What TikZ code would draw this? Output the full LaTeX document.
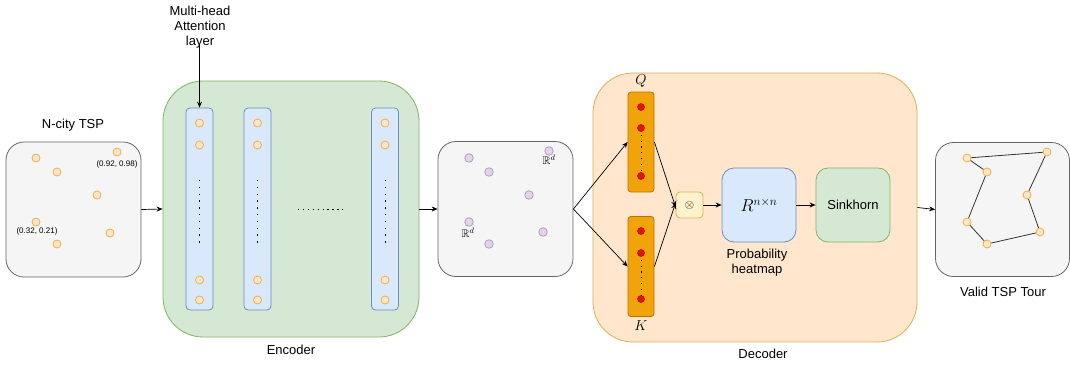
\documentclass[tikz,border=0pt]{standalone}
\usepackage{amsmath,amssymb}
\usepackage{fontspec}
\setmainfont{Liberation Sans}
\usetikzlibrary{arrows.meta}
\definecolor{gfill}{HTML}{F5F5F5}
\definecolor{gdraw}{HTML}{666666}
\definecolor{grfill}{HTML}{D5E8D4}
\definecolor{grdraw}{HTML}{82B366}
\definecolor{blfill}{HTML}{DAE8FC}
\definecolor{bldraw}{HTML}{6C8EBF}
\definecolor{orfill}{HTML}{FFE6CC}
\definecolor{ordraw}{HTML}{D79B00}
\definecolor{dotdraw}{HTML}{F0B040}
\definecolor{pufill}{HTML}{E1D5E7}
\definecolor{pudraw}{HTML}{9673A6}
\definecolor{qkfill}{HTML}{F0A30A}
\definecolor{qkdraw}{HTML}{BD7000}
\definecolor{rdfill}{HTML}{E51400}
\definecolor{rddraw}{HTML}{B20000}
\definecolor{yefill}{HTML}{FFF2CC}
\definecolor{yedraw}{HTML}{D6B656}
\definecolor{tourline}{HTML}{333333}
\begin{document}
\begin{tikzpicture}[x=1pt,y=-1pt,
  font=\fontsize{13}{16}\selectfont,
  gbox/.style={draw=gdraw,fill=gfill,line width=0.8pt,rounded corners=18pt,minimum width=#1,minimum height=#1,inner sep=0pt},
  bigbox/.style={line width=0.8pt,rounded corners=40pt,inner sep=0pt},
  layer/.style={draw=bldraw,fill=blfill,line width=0.8pt,rounded corners=4pt,minimum width=27pt,minimum height=202pt,inner sep=0pt},
  qkcol/.style={draw=qkdraw,fill=qkfill,line width=0.8pt,rounded corners=3pt,minimum width=26pt,minimum height=100pt,inner sep=0pt},
  dotO/.style={circle,draw=dotdraw,fill=orfill,line width=0.8pt,minimum size=8pt,inner sep=0pt},
  dotP/.style={circle,draw=pudraw!70,fill=pufill,line width=0.8pt,minimum size=8.5pt,inner sep=0pt},
  dotR/.style={circle,draw=rddraw,fill=rdfill,line width=0.5pt,minimum size=7pt,inner sep=0pt},
  arr/.style={-{Stealth[length=6pt,width=5pt]},line width=0.7pt,black},
  small/.style={font=\fontsize{8}{9.6}\selectfont,inner sep=0pt},
  vdots/.style={line width=1pt,dash pattern=on 1.3pt off 5.5pt,line cap=butt},
  sbox/.style={line width=0.8pt,rounded corners=12pt,minimum width=74pt,minimum height=74pt,inner sep=0pt}
]
\useasboundingbox (0,0) rectangle (1070,367);

% ---------- Input TSP ----------
\node (ncity) at (73,125) {N-city TSP};
\node[gbox=135pt] (b1) at (73.5,209.5) {};
\node[dotO] (a1) at (36,158) {};
\node[dotO] (a2) at (57,172) {};
\node[dotO] (a3) at (117,152) {};
\node[dotO] (a4) at (97,195) {};
\node[dotO] (a5) at (36,222) {};
\node[dotO] (a6) at (110,233) {};
\node[dotO] (a7) at (57,244) {};
\node[small] (l1) at (117,164) {(0.92, 0.98)};
\node[small] (l2) at (37,231) {(0.32, 0.21)};

% ---------- Encoder ----------
\node[bigbox,draw=grdraw,fill=grfill,minimum width=256pt,minimum height=256pt] (enc) at (291,209) {};
\node (enclbl) at (291,350) {Encoder};
\node[layer] (c1) at (199.5,209) {};
\node[layer] (c2) at (257.5,209) {};
\node[layer] (c3) at (385,209) {};
\foreach \c/\x in {c1/199.5,c2/257.5,c3/385}{
  \node[dotO] (\c d1) at (\x,123) {};
  \node[dotO] (\c d2) at (\x,145) {};
  \node[dotO] (\c d3) at (\x,280) {};
  \node[dotO] (\c d4) at (\x,300) {};
  \draw[vdots] (\c d2.south |- 0,180) -- (\c d2.south |- 0,243);
}
\coordinate (hd1) at (298,209);
\coordinate (hd2) at (344,209);
\draw[line width=1pt,dash pattern=on 1.3pt off 3.6pt] (hd1) -- (hd2);

\node[align=center,inner sep=0pt] (mh) at (200,27) {Multi-head\\[-1pt]Attention\\[-1pt]layer};
\draw[arr] (mh.south -| c1.north) ++(0,-4) -- (c1.north);

% ---------- Embeddings ----------
\node[gbox=135pt] (b2) at (505.5,209) {};
\node[dotP] (p1) at (469,158) {};
\node[dotP] (p2) at (489,172) {};
\node[dotP] (p3) at (549,151) {};
\node[dotP] (p4) at (529,195) {};
\node[dotP] (p5) at (469,222) {};
\node[dotP] (p6) at (543,232) {};
\node[dotP] (p7) at (489,244) {};
\node[inner sep=0pt,font=\fontsize{11}{13}\selectfont] (rd1) at (549,160) {$\mathbb{R}^d$};
\node[inner sep=0pt,font=\fontsize{11}{13}\selectfont] (rd2) at (468,233) {$\mathbb{R}^d$};

% ---------- Decoder ----------
\node[bigbox,draw=yedraw!90!orange,fill=orfill,minimum width=324pt,minimum height=269pt] (dec) at (755,207.5) {};
\node (declbl) at (763,354) {Decoder};

\node[qkcol] (Q) at (641,142) {};
\node[qkcol] (K) at (641,266.5) {};
\node[font=\fontsize{15}{17}\selectfont,inner sep=0pt] (Ql) at (641,81) {$Q$};
\node[font=\fontsize{15}{17}\selectfont,inner sep=0pt] (Kl) at (641,326) {$K$};
\node[dotR] (q1) at (641,107) {};
\node[dotR] (q2) at (641,128) {};
\node[dotR] (q3) at (641,176) {};
\node[dotR] (k1) at (641,231) {};
\node[dotR] (k2) at (641,253) {};
\node[dotR] (k3) at (641,299) {};
\draw[line width=1pt,dash pattern=on 1.3pt off 4.5pt] (q2.south) ++(0,3) -- ([yshift=-3pt]q3.north);
\draw[line width=1pt,dash pattern=on 1.3pt off 4.5pt] (k2.south) ++(0,3) -- ([yshift=-3pt]k3.north);

\node[draw=yedraw,fill=yefill,line width=0.8pt,rounded corners=4pt,minimum width=27pt,minimum height=26pt,inner sep=0pt,font=\fontsize{12}{14}\selectfont] (ot) at (689.5,205) {$\otimes$};

\node[sbox,draw=bldraw,fill=blfill,font=\fontsize{17}{20}\selectfont] (R) at (759,205) {$R^{n\times n}$};
\node[align=center] (prob) at (757,263) {Probability\\[-1pt]heatmap};
\node[sbox,draw=grdraw,fill=grfill] (sk) at (853,205) {Sinkhorn};

% ---------- Output tour ----------
\node[gbox=134pt] (b3) at (1002.5,209.5) {};
\node (vlbl) at (1003,292) {Valid TSP Tour};
\node[dotO] (t1) at (967,158) {};
\node[dotO] (t2) at (1047,152) {};
\node[dotO] (t3) at (987,172) {};
\node[dotO] (t4) at (1027,195) {};
\node[dotO] (t5) at (967,222) {};
\node[dotO] (t6) at (1040,232) {};
\node[dotO] (t7) at (987,244) {};
\draw[tourline,line width=0.8pt] (t1) -- (t2) (t2) -- (t4) (t4) -- (t6) (t6) -- (t7) (t7) -- (t5) (t5) -- (t3) (t3) -- (t1);

% ---------- Connectors ----------
\draw[arr] (b1.east) -- (enc.west);
\draw[arr] (enc.east) -- (b2.west);
\draw[arr] (b2.east) -- (Q.west);
\draw[arr] (b2.east) -- (K.west);
\draw[arr] (Q.east) -- ([yshift=-2pt]ot.west);
\draw[arr] (K.east) -- ([yshift=2pt]ot.west);
\draw[arr] (ot.east) -- (R.west);
\draw[arr] (R.east) -- (sk.west);
\draw[arr] (dec.east) -- (b3.west);
\end{tikzpicture}
\end{document}
